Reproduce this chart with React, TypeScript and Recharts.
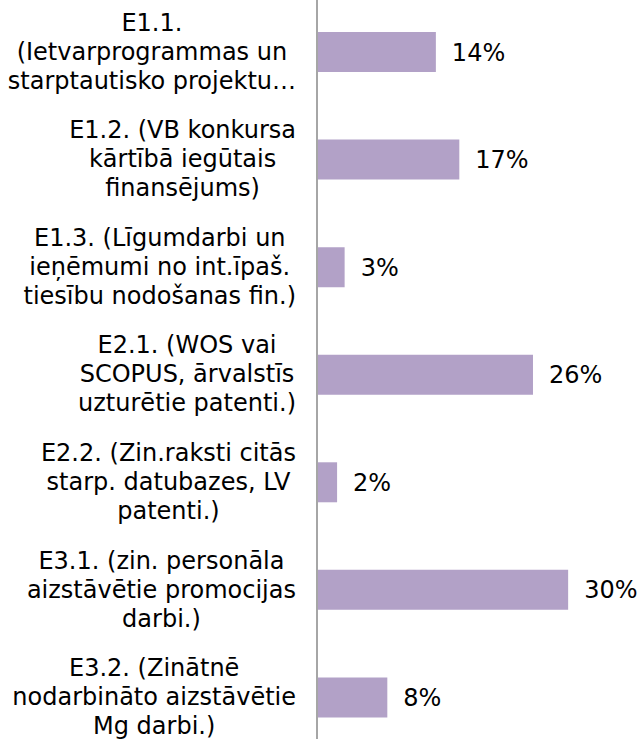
import React from "react";
import { BarChart, Bar, XAxis, YAxis, LabelList } from "recharts";

const categoryLines: string[][] = [
  ["E1.1.", "(Ietvarprogrammas un", "starptautisko projektu…"],
  ["E1.2. (VB konkursa", "kārtībā iegūtais", "finansējums)"],
  ["E1.3. (Līgumdarbi un", "ieņēmumi no int.īpaš.", "tiesību nodošanas fin.)"],
  ["E2.1. (WOS vai", "SCOPUS, ārvalstīs", "uzturētie patenti.)"],
  ["E2.2. (Zin.raksti citās", "starp. datubazes, LV", "patenti.)"],
  ["E3.1. (zin. personāla", "aizstāvētie promocijas", "darbi.)"],
  ["E3.2. (Zinātnē", "nodarbināto aizstāvētie", "Mg darbi.)"],
];

const shares: number[] = [0.142, 0.17, 0.033, 0.258, 0.024, 0.3, 0.084];

const data = categoryLines.map((lines, i) => ({
  name: lines.join(" "),
  lines,
  value: shares[i],
}));

const FONT = "DejaVu Sans, Verdana, sans-serif";
const FONT_SIZE = 24;
const LINE_H = 29;

let ctx: CanvasRenderingContext2D | null = null;
function measure(t: string): number {
  if (!ctx) {
    const c = document.createElement("canvas");
    ctx = c.getContext("2d");
  }
  if (!ctx) return t.length * FONT_SIZE * 0.6;
  ctx.font = `${FONT_SIZE}px "DejaVu Sans"`;
  return ctx.measureText(t).width;
}

const CategoryTick = (props: any) => {
  const { x, y, index } = props;
  const lines = categoryLines[index] || [String(props.payload?.value ?? "")];
  const w = Math.max(...lines.map(measure));
  const cx = x - w / 2;
  const n = lines.length;
  return (
    <g>
      {lines.map((ln, i) => (
        <text
          key={i}
          x={cx}
          y={y + (i - (n - 1) / 2) * LINE_H}
          dy="0.33em"
          textAnchor="middle"
          fontFamily={FONT}
          fontSize={FONT_SIZE}
          fill="#000"
        >
          {ln}
        </text>
      ))}
    </g>
  );
};

export default function App() {
  return (
    <div
      style={{
        position: "absolute",
        top: 0,
        left: 0,
        width: 640,
        height: 739,
        overflow: "hidden",
        background: "#fff",
      }}
    >
      <div style={{ position: "relative", top: -2 }}>
        <BarChart
          width={640}
          height={753}
          data={data}
          layout="vertical"
          margin={{ top: 0, right: 30, bottom: 0, left: 0 }}
          barSize={40}
        >
          <XAxis type="number" domain={[0, 0.35]} hide />
          <YAxis
            type="category"
            dataKey="name"
            width={317}
            axisLine={{ stroke: "#A6A6A6", strokeWidth: 2 }}
            tickLine={false}
            tickSize={0}
            tickMargin={21}
            tick={<CategoryTick />}
            interval={0}
          />
          <Bar dataKey="value" fill="#B2A1C7" isAnimationActive={false}>
            <LabelList
              dataKey="value"
              position="right"
              offset={16}
              formatter={(v: any) => `${Math.round(Number(v) * 100)}%`}
              style={{ fontFamily: FONT, fontSize: FONT_SIZE, fill: "#000" }}
            />
          </Bar>
        </BarChart>
      </div>
    </div>
  );
}
